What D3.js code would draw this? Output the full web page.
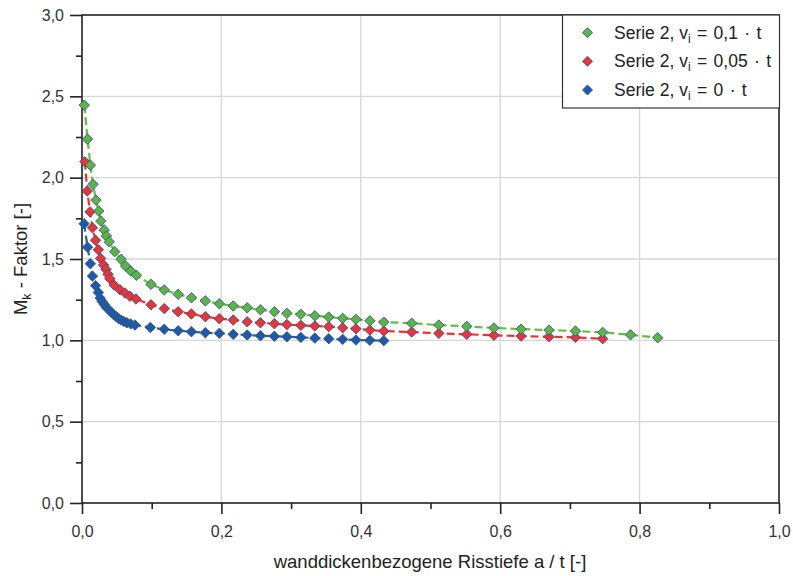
<!DOCTYPE html>
<html><head><meta charset="utf-8">
<script src="https://cdn.jsdelivr.net/npm/d3@7"></script>
<style>body{margin:0;background:#fff}svg{display:block;font-family:"Liberation Sans",Arial,sans-serif}</style>
</head><body><svg id="c" width="793" height="576"></svg>
<script>
// Series data (x = a/t, y = Mk-Faktor)
const greenX = [0.0033,0.008,0.012,0.0158,0.020,0.024,0.027,0.032,0.035,0.039,0.047,0.056,0.0625,0.070,0.078,
  0.099,0.118,0.138,0.157,0.177,0.197,0.217,0.237,0.256,0.276,0.294,0.314,0.334,0.354,0.374,0.393,0.413,0.433,
  0.473,0.512,0.552,0.591,0.630,0.670,0.708,0.747,0.787,0.826];
const greenY = [2.446,2.237,2.077,1.959,1.862,1.795,1.733,1.678,1.641,1.606,1.545,1.498,1.457,1.426,1.400,
  1.344,1.310,1.283,1.262,1.242,1.225,1.211,1.200,1.188,1.176,1.166,1.160,1.151,1.143,1.135,1.129,1.120,1.112,
  1.105,1.094,1.086,1.076,1.069,1.063,1.057,1.049,1.034,1.016];
const redX = [0.004,0.0076,0.0115,0.015,0.0195,0.0234,0.0267,0.031,0.0344,0.0373,0.040,0.046,0.0545,0.0616,0.0688,0.0774,
  0.099,0.118,0.138,0.157,0.177,0.197,0.217,0.237,0.256,0.276,0.294,0.314,0.334,0.354,0.374,0.393,0.413,0.433,
  0.473,0.512,0.552,0.591,0.630,0.670,0.708,0.747];
const redY = [2.098,1.918,1.790,1.692,1.615,1.557,1.504,1.463,1.436,1.406,1.379,1.340,1.311,1.291,1.271,1.254,
  1.219,1.195,1.176,1.162,1.145,1.133,1.125,1.114,1.108,1.102,1.097,1.092,1.088,1.084,1.077,1.071,1.063,1.057,
  1.051,1.043,1.037,1.031,1.026,1.022,1.018,1.010];
const blueX = [0.003,0.008,0.012,0.015,0.0195,0.0234,0.026,0.029,0.032,0.035,0.039,0.042,0.045,0.049,0.052,0.056,0.060,0.0645,0.070,0.076,
  0.098,0.118,0.138,0.157,0.177,0.197,0.217,0.237,0.256,0.276,0.294,0.314,0.334,0.354,0.374,0.393,0.413,0.433];
const blueY = [1.717,1.573,1.471,1.395,1.336,1.294,1.260,1.238,1.220,1.202,1.186,1.172,1.160,1.146,1.135,1.125,1.116,1.108,1.101,1.094,
  1.079,1.068,1.059,1.053,1.047,1.043,1.037,1.033,1.028,1.025,1.022,1.018,1.014,1.010,1.006,1.002,1.000,0.998];

const xTicks = [0,0.2,0.4,0.6,0.8,1.0];
const xTickLabels = ["0,0","0,2","0,4","0,6","0,8","1,0"];
const xMinor = [0.1,0.3,0.5,0.7,0.9];
const yTicks = [0,0.5,1.0,1.5,2.0,2.5,3.0];
const yTickLabels = ["0,0","0,5","1,0","1,5","2,0","2,5","3,0"];
const yMinor = [0.25,0.75,1.25,1.75,2.25,2.75];
const legendLabels = [["Serie 2, v","i"," = 0,1 · t"],["Serie 2, v","i"," = 0,05 · t"],["Serie 2, v","i"," = 0 · t"]];

const svg = d3.select("#c");
const L=82, R=779, T=15, B=503;
const x = d3.scaleLinear().domain([0,1]).range([L,R]);
const y = d3.scaleLinear().domain([0,3]).range([B,T]);

// grid
const g = svg.append("g");
g.selectAll(".gx").data(xTicks.filter(v=>v>0&&v<1)).join("line")
  .attr("x1",d=>x(d)).attr("x2",d=>x(d)).attr("y1",T).attr("y2",B).attr("stroke","#d6d6d6").attr("stroke-width",1.3);
g.selectAll(".gy").data(yTicks.filter(v=>v>0&&v<3)).join("line")
  .attr("y1",d=>y(d)).attr("y2",d=>y(d)).attr("x1",L).attr("x2",R).attr("stroke","#d6d6d6").attr("stroke-width",1.3);

// axes
const xAx = d3.axisBottom(x).tickValues(xTicks).tickFormat((d,i)=>xTickLabels[i]).tickSize(11).tickPadding(12);
const yAx = d3.axisLeft(y).tickValues(yTicks).tickFormat((d,i)=>yTickLabels[i]).tickSize(12).tickPadding(6);
svg.append("g").attr("transform",`translate(0,${B})`).call(xAx);
svg.append("g").attr("transform",`translate(${L},0)`).call(yAx);
svg.append("g").attr("transform",`translate(0,${B})`).call(d3.axisBottom(x).tickValues(xMinor).tickSize(6).tickFormat(""));
svg.append("g").attr("transform",`translate(${L},0)`).call(d3.axisLeft(y).tickValues(yMinor).tickSize(6).tickFormat(""));
svg.selectAll(".domain").remove();
svg.selectAll(".tick line").attr("stroke","#222").attr("stroke-width",1.6);
svg.selectAll(".tick text").attr("font-size",16).attr("fill","#333").attr("font-family","Liberation Sans, Arial, sans-serif");
// frame
svg.append("rect").attr("x",L).attr("y",T).attr("width",R-L).attr("height",B-T)
  .attr("fill","none").attr("stroke","#222").attr("stroke-width",1.6);

// series
const series = [
  {xs:blueX, ys:blueY, fill:"#1f5aa8", line:"#2a5daa"},
  {xs:redX, ys:redY, fill:"#e8343a", line:"#e83338"},
  {xs:greenX, ys:greenY, fill:"#5cb448", line:"#66bb4a"}
];
const diamond = r => `M0,${-r}L${r},0L0,${r}L${-r},0Z`;
const line = d3.line().x(d=>x(d[0])).y(d=>y(d[1]));
series.forEach(s=>{
  const pts = s.xs.map((v,i)=>[v,s.ys[i]]);
  svg.append("path").attr("d",line(pts)).attr("fill","none").attr("stroke",s.line)
    .attr("stroke-width",2.2).attr("stroke-dasharray","8,4");
});
series.forEach(s=>{
  const pts = s.xs.map((v,i)=>[v,s.ys[i]]);
  svg.append("g").selectAll("path").data(pts).join("path")
    .attr("d",diamond(5.2)).attr("transform",d=>`translate(${x(d[0])},${y(d[1])})`)
    .attr("fill",s.fill).attr("stroke","#35557e").attr("stroke-width",0.9);
});

// legend
const lg = svg.append("g");
lg.append("rect").attr("x",562.5).attr("y",15).attr("width",217).attr("height",93)
  .attr("fill","#fff").attr("stroke","#333").attr("stroke-width",1.2);
const legendFills = ["#5cb448","#e8343a","#1f5aa8"];
const ly = [32.7,61.3,90];
legendLabels.forEach((lab,i)=>{
  lg.append("path").attr("d",diamond(5)).attr("transform",`translate(587.5,${ly[i]})`)
    .attr("fill",legendFills[i]).attr("stroke","#35557e").attr("stroke-width",0.9);
  const t = lg.append("text").attr("x",614).attr("y",ly[i]+6).attr("font-size",17.5).attr("fill","#222");
  t.append("tspan").text(lab[0]);
  t.append("tspan").attr("font-size",12).attr("dy",4).text(lab[1]);
  t.append("tspan").attr("dy",-4).attr("word-spacing",1.5).text(lab[2]);
});

// axis titles
svg.append("text").attr("x",430).attr("y",568).attr("text-anchor","middle").attr("font-size",18.5).attr("fill","#222")
  .text("wanddickenbezogene Risstiefe a / t [-]");
const yt = svg.append("text").attr("transform","translate(27,259) rotate(-90)").attr("text-anchor","middle")
  .attr("font-size",18.5).attr("fill","#222");
yt.append("tspan").text("M");
yt.append("tspan").attr("font-size",12.5).attr("dy",4).text("k");
yt.append("tspan").attr("dy",-4).text(" - Faktor [-]");
</script></body></html>
